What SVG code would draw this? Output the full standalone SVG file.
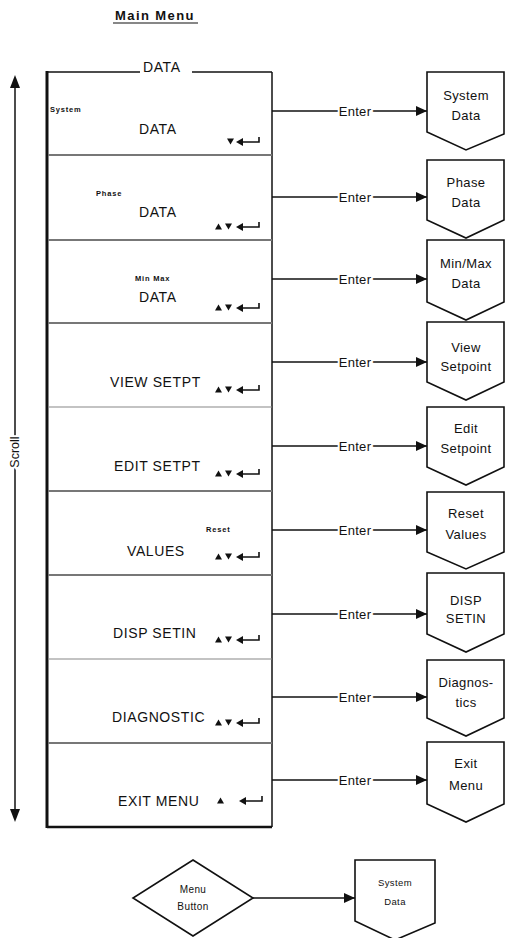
<svg xmlns="http://www.w3.org/2000/svg" width="506" height="938" viewBox="0 0 506 938">
<style>
text{font-family:"Liberation Sans",Arial,sans-serif;fill:#111}
.t{font-size:14px;letter-spacing:0.6px}
.s{font-size:7.5px;font-weight:bold;letter-spacing:0.8px}
.b{font-size:13px;text-anchor:middle;letter-spacing:0.4px}
.e{font-size:13px;text-anchor:middle;letter-spacing:0.3px;stroke:#fff;stroke-width:4px;paint-order:stroke}
.div{stroke:#777;stroke-width:2}
.divt{stroke:#888;stroke-width:1.2}
.con{stroke:#111;stroke-width:1.5;fill:none}
.op{fill:#fff;stroke:#111;stroke-width:1.6}
</style>
<defs>
<marker id="ah" markerWidth="11" markerHeight="10" refX="11" refY="5" orient="auto" markerUnits="userSpaceOnUse">
<path d="M0,0 L11,5 L0,10 Z" fill="#111"/>
</marker>
<g id="ent"><path d="M0,0 L7,-4 L7,4 Z" fill="#111"/><path d="M6,0 H23 V-5" stroke="#111" stroke-width="1.6" fill="none"/></g>
<path id="up" d="M0,2.5 L3.5,-3.5 L7,2.5 Z" fill="#111"/>
<path id="dn" d="M0,-3.5 L7,-3.5 L3.5,2.5 Z" fill="#111"/>
</defs>

<g id="title">
<text x="155" y="20" text-anchor="middle" style="font-size:13px;font-weight:bold;letter-spacing:1.4px">Main Menu</text>
<line x1="113" y1="23" x2="198" y2="23" stroke="#111" stroke-width="1.2"/>
</g>

<g id="scroll">
<line x1="15" y1="84" x2="15" y2="812" stroke="#111" stroke-width="1.5"/>
<path d="M15,75 L20,88 L10,88 Z" fill="#111"/>
<path d="M15,822 L20,809 L10,809 Z" fill="#111"/>
<text transform="translate(19,452) rotate(-90)" text-anchor="middle" style="font-size:12.5px;stroke:#fff;stroke-width:4px;paint-order:stroke">Scroll</text>
</g>

<g id="menu">
<line x1="47" y1="72" x2="272" y2="72" stroke="#111" stroke-width="1.5"/>
<line x1="272" y1="72" x2="272" y2="827" stroke="#111" stroke-width="1.5"/>
<line x1="47" y1="827" x2="272" y2="827" stroke="#111" stroke-width="2.5"/>
<line x1="47" y1="71" x2="47" y2="828" stroke="#111" stroke-width="3"/>
<rect x="140" y="60" width="52" height="16" fill="#fff"/>
<text class="t" x="143" y="72">DATA</text>
<line class="div" x1="48" y1="155" x2="272" y2="155"/>
<line class="div" x1="48" y1="240" x2="272" y2="240"/>
<line class="div" x1="48" y1="323" x2="272" y2="323"/>
<line class="divt" x1="48" y1="407" x2="272" y2="407"/>
<line class="div" x1="48" y1="491" x2="272" y2="491"/>
<line class="div" x1="48" y1="575" x2="272" y2="575"/>
<line class="divt" x1="48" y1="659" x2="272" y2="659"/>
<line class="div" x1="48" y1="743" x2="272" y2="743"/>
</g>

<g id="row-system">
<text class="s" x="50" y="112">System</text>
<text class="t" x="139" y="134">DATA</text>
<use href="#dn" x="227" y="142"/><use href="#ent" x="236" y="142"/>
</g>
<g id="row-phase">
<text class="s" x="96" y="196">Phase</text>
<text class="t" x="139" y="217">DATA</text>
<use href="#up" x="215" y="227"/><use href="#dn" x="225" y="227"/><use href="#ent" x="236" y="227"/>
</g>
<g id="row-minmax">
<text class="s" x="135" y="281">Min Max</text>
<text class="t" x="139" y="302">DATA</text>
<use href="#up" x="215" y="308"/><use href="#dn" x="225" y="308"/><use href="#ent" x="236" y="308"/>
</g>
<g id="row-view">
<text class="t" x="110" y="387">VIEW SETPT</text>
<use href="#up" x="215" y="390"/><use href="#dn" x="225" y="390"/><use href="#ent" x="236" y="390"/>
</g>
<g id="row-edit">
<text class="t" x="114" y="471">EDIT SETPT</text>
<use href="#up" x="215" y="474"/><use href="#dn" x="225" y="474"/><use href="#ent" x="236" y="474"/>
</g>
<g id="row-reset">
<text class="s" x="206" y="532">Reset</text>
<text class="t" x="127" y="556">VALUES</text>
<use href="#up" x="215" y="557"/><use href="#dn" x="225" y="557"/><use href="#ent" x="236" y="557"/>
</g>
<g id="row-disp">
<text class="t" x="113" y="638">DISP SETIN</text>
<use href="#up" x="215" y="640"/><use href="#dn" x="225" y="640"/><use href="#ent" x="236" y="640"/>
</g>
<g id="row-diag">
<text class="t" x="112" y="722">DIAGNOSTIC</text>
<use href="#up" x="215" y="723"/><use href="#dn" x="225" y="723"/><use href="#ent" x="236" y="723"/>
</g>
<g id="row-exit">
<text class="t" x="118" y="806">EXIT MENU</text>
<use href="#up" x="217" y="801"/><use href="#ent" x="239" y="801"/>
</g>

<g id="connectors">
<line class="con" x1="272" y1="111" x2="427" y2="111" marker-end="url(#ah)"/>
<line class="con" x1="272" y1="197" x2="427" y2="197" marker-end="url(#ah)"/>
<line class="con" x1="272" y1="279" x2="427" y2="279" marker-end="url(#ah)"/>
<line class="con" x1="272" y1="362" x2="427" y2="362" marker-end="url(#ah)"/>
<line class="con" x1="272" y1="446" x2="427" y2="446" marker-end="url(#ah)"/>
<line class="con" x1="272" y1="530" x2="427" y2="530" marker-end="url(#ah)"/>
<line class="con" x1="272" y1="614" x2="427" y2="614" marker-end="url(#ah)"/>
<line class="con" x1="272" y1="697" x2="427" y2="697" marker-end="url(#ah)"/>
<line class="con" x1="272" y1="780" x2="427" y2="780" marker-end="url(#ah)"/>
<line class="con" x1="253" y1="898" x2="355" y2="898" marker-end="url(#ah)"/>
<text class="e" x="355" y="116">Enter</text>
<text class="e" x="355" y="202">Enter</text>
<text class="e" x="355" y="284">Enter</text>
<text class="e" x="355" y="367">Enter</text>
<text class="e" x="355" y="451">Enter</text>
<text class="e" x="355" y="535">Enter</text>
<text class="e" x="355" y="619">Enter</text>
<text class="e" x="355" y="702">Enter</text>
<text class="e" x="355" y="785">Enter</text>
</g>

<g id="op-system"><path class="op" d="M427,72 H504 V134 L466,150 L427,132 Z"/><text class="b" x="466" y="100">System</text><text class="b" x="466" y="120">Data</text></g>
<g id="op-phase"><path class="op" d="M427,160 H504 V220 L466,238 L427,220 Z"/><text class="b" x="466" y="187">Phase</text><text class="b" x="466" y="207">Data</text></g>
<g id="op-minmax"><path class="op" d="M427,240 H504 V302 L466,320 L427,302 Z"/><text class="b" x="466" y="268">Min/Max</text><text class="b" x="466" y="288">Data</text></g>
<g id="op-view"><path class="op" d="M427,322 H504 V382 L466,400 L427,382 Z"/><text class="b" x="466" y="352">View</text><text class="b" x="466" y="371">Setpoint</text></g>
<g id="op-edit"><path class="op" d="M427,407 H504 V467 L466,485 L427,467 Z"/><text class="b" x="466" y="433">Edit</text><text class="b" x="466" y="453">Setpoint</text></g>
<g id="op-reset"><path class="op" d="M427,492 H504 V552 L466,569 L427,552 Z"/><text class="b" x="466" y="518">Reset</text><text class="b" x="466" y="539">Values</text></g>
<g id="op-disp"><path class="op" d="M427,573 H504 V634 L466,652 L427,634 Z"/><text class="b" x="466" y="605">DISP</text><text class="b" x="466" y="623">SETIN</text></g>
<g id="op-diag"><path class="op" d="M427,660 H504 V718 L466,736 L427,718 Z"/><text class="b" x="466" y="687">Diagnos-</text><text class="b" x="466" y="707">tics</text></g>
<g id="op-exit"><path class="op" d="M427,742 H504 V804 L466,822 L427,804 Z"/><text class="b" x="466" y="768">Exit</text><text class="b" x="466" y="790">Menu</text></g>

<g id="menu-button"><path class="op" d="M193,860 L253,898 L193,936 L133,898 Z"/><text class="b" x="193" y="893" style="font-size:10px">Menu</text><text class="b" x="193" y="910" style="font-size:10px">Button</text></g>
<g id="op-system-2"><path class="op" d="M355,860 H435 V923 L395,940 L355,921 Z"/><text class="b" x="395" y="886" style="font-size:9.5px">System</text><text class="b" x="395" y="905" style="font-size:9.5px">Data</text></g>
</svg>
